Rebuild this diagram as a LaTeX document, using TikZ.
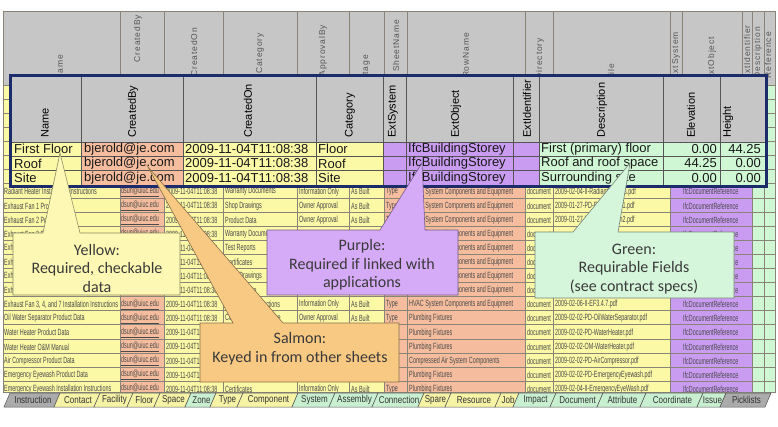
\documentclass[tikz,border=0pt]{standalone}
\usepackage{fontspec}
\setmainfont{Liberation Sans}
\newfontfamily\calloutfont{Carlito}
\newfontfamily\sheetfont[FakeStretch=0.6]{Liberation Sans}
\newfontfamily\tabfont[FakeStretch=0.8]{Liberation Sans}
\newfontfamily\headfont[LetterSpace=10]{Liberation Sans}

\definecolor{cellyellow}{HTML}{FBF8A6}
\definecolor{cellsalmon}{HTML}{F5BD9E}
\definecolor{cellpurple}{HTML}{C99CF2}
\definecolor{cellgreen}{HTML}{CFF7D3}
\definecolor{headgray}{HTML}{C6C6C6}
\definecolor{sheetline}{HTML}{8A8478}
\definecolor{insetline}{HTML}{555555}
\definecolor{sheetink}{HTML}{4A4A4A}
\definecolor{headink}{HTML}{555555}
\definecolor{boxnavy}{HTML}{1C2C6B}
\definecolor{tipyellow}{HTML}{FDF9B4}
\definecolor{tipsalmon}{HTML}{F8C983}
\definecolor{tippurple}{HTML}{D5AAF6}
\definecolor{tipgreen}{HTML}{D6F6DB}
\definecolor{tiptext}{HTML}{3A3A3A}
\definecolor{tabyellow}{HTML}{F7F3A6}
\definecolor{tabgreen}{HTML}{C8F0D0}
\definecolor{tabgray}{HTML}{ABABAB}
\definecolor{tabline}{HTML}{555555}
\definecolor{tabink}{HTML}{333333}

\tikzset{
  sheetgrid/.style={draw=sheetline, line width=0.5pt},
  sheettext/.style={font=\sheetfont\fontsize{9}{10}\selectfont, text=sheetink, anchor=west, inner sep=0pt},
  sheethead/.style={font=\headfont\fontsize{8.5}{9}\selectfont, text=headink, rotate=90, anchor=east, inner sep=0pt},
  insetgrid/.style={draw=insetline, line width=0.6pt},
  insethead/.style={font=\fontsize{11}{12}\selectfont, text=black, rotate=90, anchor=west, inner sep=0pt},
  insettext/.style={font=\fontsize{13}{14}\selectfont, text=black!90, anchor=west, inner sep=0pt},
  insetnum/.style={insettext, anchor=east},
  callbox/.style={fill=#1, draw=#1!55!black, line width=0.6pt},
  calltext/.style={font=\calloutfont\fontsize{16}{18.5}\selectfont, text=tiptext, align=center, inner sep=0pt},
  sheettab/.style={fill=#1, draw=tabline, line width=0.5pt},
  tabtext/.style={font=\tabfont\fontsize{10}{11}\selectfont, text=tabink, inner sep=0pt},
}

\begin{document}
\begin{tikzpicture}[x=1pt, y=-1pt]
  \useasboundingbox (0,0) rectangle (778,426);
  \fill[white] (0,0) rectangle (778,426);

  % sheet behind: header
  \fill[headgray] (3,11) rectangle (775,85);
  \draw[sheetgrid] (3,11) -- (775,11);
  \foreach \x in {3,120,164,223,297,349,384,407,525,553,670,682,742,752,764,775}
    \draw[sheetgrid] (\x,11) -- (\x,85);
  \foreach \x/\y/\txt in {60/55/Name, 138/15/CreatedBy, 194/28/CreatedOn, 260/33/Category,
      323/25/ApprovalBy, 366/55/Stage, 396/20/SheetName, 466/33/RowName, 540/38/Directory,
      611/64/File, 676/32/ExtSystem, 712/37/ExtObject, 747/25/ExtIdentifier,
      758/27/Description, 768/32/Reference}
    \node[sheethead] (bh-\txt) at (\x,\y) {\txt};

  % sheet behind: cells
  \foreach \xa/\xb/\col in {3/120/cellyellow, 120/164/cellsalmon, 164/223/cellyellow,
      223/297/cellyellow, 297/349/cellyellow, 349/384/cellyellow, 384/407/cellsalmon,
      407/525/cellsalmon, 525/553/cellyellow, 553/670/cellyellow, 670/752/cellpurple,
      752/764/cellgreen, 764/775/cellgreen}
    \fill[\col] (\xa,85) rectangle (\xb,393);
  \foreach \k in {0,...,21}
    \draw[sheetgrid] (3,{85+14.1*\k}) -- (775,{85+14.1*\k});
  \foreach \x in {3,120,164,223,297,349,384,407,525,553,670,752,764,775}
    \draw[sheetgrid] (\x,85) -- (\x,393);

  % sheet behind: texts
  \begin{scope}
    \clip (3,85) rectangle (119.5,393);
    \foreach \row/\txt in {8/Radiant Heater Installation Instructions,
        9/Exhaust Fan 1 Product Data, 10/Exhaust Fan 2 Product Data,
        11/Exhaust Fan 3 Product Data, 12/Exhaust Fan 3 Test Reports,
        13/Exhaust Fan 4 Certificates, 14/Exhaust Fan 4 Shop Drawings,
        15/Exhaust Fan 7 Product Data, 16/{Exhaust Fan 3, 4, and 7 Installation Instructions},
        17/Oil Water Separator Product Data, 18/Water Heater Product Data,
        19/Water Heater O\&M Manual, 20/Air Compressor Product Data,
        21/Emergency Eyewash Product Data, 22/Emergency Eyewash Installation Instructions}
      \node[sheettext] (nm-\row) at (4,{78.95+14.1*\row}) {\txt};
  \end{scope}
  \foreach \row in {8,9,10,11,16,17,18,19,20,21,22}
    \node[sheettext] (by-\row) at (121,{78.95+14.1*\row}) {\underline{dsun@uiuc.edu}};
  \foreach \row in {8,...,22} {
    \node[sheettext] (on-\row) at (166,{78.95+14.1*\row}) {2009-11-04T11:08:38};
    \node[sheettext] (dr-\row) at (527,{78.95+14.1*\row}) {document};
    \node[sheettext] (rf-\row) at (683,{78.95+14.1*\row}) {IfcDocumentReference};
  }
  \foreach \row/\appr in {8/Information Only, 9/Owner Approval, 10/Owner Approval,
      16/Information Only, 17/Owner Approval, 22/Information Only} {
    \node[sheettext] (ap-\row) at (299,{78.95+14.1*\row}) {\appr};
    \node[sheettext] (st-\row) at (351,{78.95+14.1*\row}) {As Built};
    \node[sheettext] (sh-\row) at (386,{78.95+14.1*\row}) {Type};
  }
  \foreach \row/\cat in {8/Warranty Documents, 9/Shop Drawings, 10/Product Data,
      11/Warranty Documents, 12/Test Reports, 13/Certificates, 14/Shop Drawings,
      15/Product Data, 16/Installation Instructions, 17/Compliance Assurance,
      22/Certificates}
    \node[sheettext] (ct-\row) at (225,{78.95+14.1*\row}) {\cat};
  \foreach \row/\rown in {8/HVAC System Components and Equipment,
      9/HVAC System Components and Equipment, 10/HVAC System Components and Equipment,
      11/HVAC System Components and Equipment, 12/HVAC System Components and Equipment,
      13/HVAC System Components and Equipment, 14/HVAC System Components and Equipment,
      15/HVAC System Components and Equipment, 16/HVAC System Components and Equipment,
      17/Plumbing Fixtures, 18/Plumbing Fixtures, 19/Plumbing Fixtures,
      20/Compressed Air System Components, 21/Plumbing Fixtures, 22/Plumbing Fixtures}
    \node[sheettext] (rn-\row) at (409,{78.95+14.1*\row}) {\rown};
  \foreach \row/\file in {8/2009-02-04-II-RadiantHeaters.pdf,
      9/2009-01-27-PD-ExhaustFan1.pdf, 10/2009-01-27-PD-ExhaustFan2.pdf,
      16/2009-02-06-II-EF3.4.7.pdf, 17/2009-02-02-PD-OilWaterSeparator.pdf,
      18/2009-02-02-PD-WaterHeater.pdf, 19/2009-02-02-OM-WaterHeater.pdf,
      20/2009-02-02-PD-AirCompressor.pdf, 21/2009-02-02-PD-EmergencyEyewash.pdf,
      22/2009-02-04-II-EmergencyEyeWash.pdf}
    \node[sheettext] (fl-\row) at (555,{78.95+14.1*\row}) {\file};

  % zoomed inset
  \fill[headgray] (12,77) rectangle (765,142);
  \foreach \xa/\xb/\col in {12/81/cellyellow, 81/183/cellsalmon, 183/316/cellyellow,
      316/383/cellyellow, 383/406/cellpurple, 406/513/cellpurple, 513/539/cellpurple,
      539/663/cellgreen, 663/720/cellgreen, 720/765/cellgreen}
    \fill[\col] (\xa,142) rectangle (\xb,185);
  \foreach \x in {81,183,316,383,406,513,539,663,720}
    \draw[insetgrid] (\x,77) -- (\x,185);
  \foreach \y in {142,156.3,170.6}
    \draw[insetgrid] (12,\y) -- (765,\y);
  \foreach \x/\txt in {45/Name, 133/CreatedBy, 248/CreatedOn, 350/Category, 393/ExtSystem,
      456/ExtObject, 527/ExtIdentifier, 602/Description, 691/Elevation, 728/Height}
    \node[insethead] (ih-\txt) at (\x,138) {\txt};
  \foreach \row/\y/\nm/\cat/\desc/\elev/\hgt in {1/149.2/First Floor/Floor/First (primary) floor/0.00/44.25,
      2/163.5/Roof/Roof/Roof and roof space/44.25/0.00,
      3/177.8/Site/Site/Surrounding site/0.00/0.00} {
    \node[insettext] (in-nm-\row) at (14,\y) {\nm};
    \node[insettext] (in-by-\row) at (84,\y) {bjerold@je.com};
    \node[insettext] (in-on-\row) at (185,\y) {2009-11-04T11:08:38};
    \node[insettext] (in-ct-\row) at (318,\y) {\cat};
    \node[insettext] (in-ob-\row) at (408,\y) {IfcBuildingStorey};
    \node[insettext] (in-ds-\row) at (541,\y) {\desc};
    \node[insetnum] (in-el-\row) at (717,\y) {\elev};
    \node[insetnum] (in-ht-\row) at (761,\y) {\hgt};
  }
  \draw[boxnavy, line width=3pt] (10.5,75.5) rectangle (766.5,186.5);

  % callouts
  \filldraw[callbox=tipyellow] (13,233) -- (43,233) -- (60,153) -- (80,233) -- (180,233)
    -- (180,295) -- (13,295) -- cycle;
  \node[calltext] (yellownote) at (97,268) {Yellow:\\Required, checkable\\data};

  \filldraw[callbox=tipsalmon] (200,323) -- (233,323) -- (148,167) -- (283,323) -- (399,323)
    -- (399,382) -- (200,382) -- cycle;
  \node[calltext] (salmonnote) at (300,348.5) {Salmon:\\Keyed in from other sheets};

  \filldraw[callbox=tippurple] (267,230) -- (380,230) -- (422,163) -- (425,230) -- (458,230)
    -- (458,295) -- (267,295) -- cycle;
  \node[calltext] (purplenote) at (362,265) {Purple:\\Required if linked with\\applications};

  \filldraw[callbox=tipgreen] (535,232) -- (573,232) -- (630,163) -- (618,232) -- (734,232)
    -- (734,298) -- (535,298) -- cycle;
  \node[calltext] (greennote) at (634,269) {Green:\\Requirable Fields\\(see contract specs)};

  % sheet tabs
  \fill[white] (0,392.5) rectangle (778,426);
  \draw[sheetgrid] (3,392.5) -- (775,392.5);
  \foreach \xa/\xb/\col/\txt in {7/57/tabgray/Instruction, 57/97/tabyellow/Contact,
      97/130/tabyellow/Facility, 130/157/tabyellow/Floor, 157/188/tabyellow/Space,
      188/213/tabgreen/Zone, 213/240/tabyellow/Type, 240/295/tabyellow/Component,
      295/332/tabgreen/System, 332/375/tabgreen/Assembly, 375/421/tabgreen/Connection,
      421/448/tabyellow/Spare, 448/498/tabyellow/Resource, 498/516/tabyellow/Job,
      516/553/tabgreen/Impact, 553/600/tabgreen/Document, 600/643/tabgreen/Attribute,
      643/700/tabgreen/Coordinate, 700/723/tabgreen/Issue, 723/768/tabgray/Picklists} {
    \filldraw[sheettab=\col] (\xa-3,407) -- (\xa+3,393) -- (\xb+3,393) -- (\xb-3,407) -- cycle;
    \node[tabtext] (tab-\txt) at ({(\xa+\xb)/2+1},400) {\txt};
  }
\end{tikzpicture}
\end{document}
